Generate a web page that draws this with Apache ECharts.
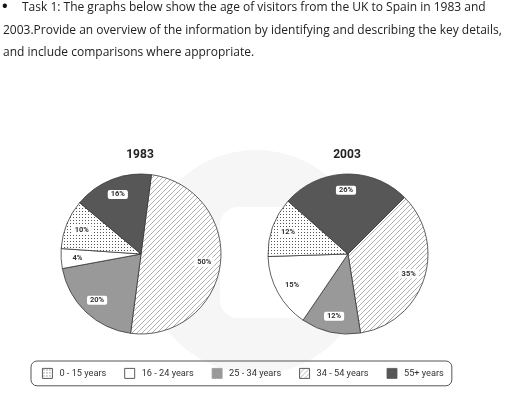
<!DOCTYPE html>
<html><head><meta charset="utf-8">
<script src="https://cdn.jsdelivr.net/npm/echarts@6/dist/echarts.min.js"></script>
<style>html,body{margin:0;padding:0;background:#fff}#c{width:512px;height:408px}</style>
</head><body><div id="c"></div>
<script>
// ---- data ----
const legendNames = ['0 - 15 years', '16 - 24 years', '25 - 34 years', '34 - 54 years', '55+ years'];
// clockwise order as drawn, starting at the 34 - 54 slice
const sliceOrder = ['34 - 54 years', '25 - 34 years', '16 - 24 years', '0 - 15 years', '55+ years'];
const values1983 = [50, 20, 4, 10, 16];
const values2003 = [35, 12, 15, 12, 26];
const years = ['1983', '2003'];
const bullet = '•';
const headerLines = [
  'Task 1: The graphs below show the age of visitors from the UK to Spain in 1983 and',
  '2003.Provide an overview of the information by identifying and describing the key details,',
  'and include comparisons where appropriate.'
];

// ---- patterns ----
function hatch() {
  const s = 5, c = document.createElement('canvas'); c.width = c.height = s;
  const g = c.getContext('2d'); g.fillStyle = '#fff'; g.fillRect(0, 0, s, s);
  g.strokeStyle = '#a8a8a8'; g.lineWidth = 0.9;
  g.beginPath();
  g.moveTo(0, s); g.lineTo(s, 0);
  g.moveTo(-1, 1); g.lineTo(1, -1);
  g.moveTo(s - 1, s + 1); g.lineTo(s + 1, s - 1);
  g.stroke();
  return { image: c, repeat: 'repeat' };
}
function dots() {
  const s = 3, c = document.createElement('canvas'); c.width = c.height = s;
  const g = c.getContext('2d'); g.fillStyle = '#fff'; g.fillRect(0, 0, s, s);
  g.fillStyle = '#555'; g.fillRect(1, 1, 1, 1);
  return { image: c, repeat: 'repeat' };
}
const fills = {
  '0 - 15 years': dots(),
  '16 - 24 years': '#ffffff',
  '25 - 34 years': '#999999',
  '34 - 54 years': hatch(),
  '55+ years': '#575757'
};

const centers = [[141, 254], [348, 254]];
const R = 80;
const starts = [82.5, 45];
const valueSets = [values1983, values2003];

function pieData(vals, withFill) {
  return sliceOrder.map((n, i) => ({
    name: n, value: vals[i],
    itemStyle: withFill ? { color: fills[n] } : undefined
  }));
}

const series = [];
valueSets.forEach((vals, k) => {
  series.push({
    type: 'pie', center: centers[k], radius: [0, R], startAngle: starts[k], clockwise: true,
    silent: true, animation: false, avoidLabelOverlap: false,
    label: { show: false }, labelLine: { show: false },
    itemStyle: { borderColor: '#3a3a3a', borderWidth: 0.8 },
    emphasis: { disabled: true },
    data: pieData(vals, true)
  });
});
valueSets.forEach((vals, k) => {
  series.push({
    type: 'pie', center: centers[k], radius: [R * 0.52, R], startAngle: starts[k], clockwise: true,
    silent: true, animation: false, avoidLabelOverlap: false,
    itemStyle: { color: 'rgba(0,0,0,0)', borderWidth: 0 },
    emphasis: { disabled: true },
    label: {
      show: true, position: 'inside', formatter: '{c}%',
      fontFamily: 'Roboto', fontSize: 7.5, fontWeight: 'bold', color: '#333',
      backgroundColor: '#fff', borderRadius: 2, padding: [1, 3, 0, 3]
    },
    labelLine: { show: false },
    data: pieData(vals, false)
  });
});

const headStyle = { fontFamily: 'Open Sans', fontSize: 12, fontWeight: 'normal', color: '#222' };
const titles = [{ text: bullet, left: 2, top: -1, padding: 0,
  textStyle: { fontFamily: 'Open Sans', fontSize: 15, color: '#111' } }];
headerLines.forEach((t, i) => titles.push({
  text: t, left: i === 0 ? 22 : 3, top: 2 + i * 22.5, textStyle: headStyle, padding: 0
}));
years.forEach((y, k) => titles.push({
  text: y, left: centers[k][0] - 1, top: 149, textAlign: 'center',
  textStyle: { fontFamily: 'Roboto', fontSize: 12, fontWeight: 'bold', color: '#222' },
  padding: 0
}));

const legendData = legendNames.map(n => {
  const solid = n === '25 - 34 years' || n === '55+ years';
  return { name: n, itemStyle: { borderColor: solid ? fills[n] : '#333', borderWidth: 0.8 } };
});

const chart = echarts.init(document.getElementById('c'), null, { renderer: 'canvas' });
chart.setOption({
  animation: false,
  title: titles,
  graphic: [
    { type: 'circle', z: 0, shape: { cx: 256, cy: 262, r: 112 }, style: { fill: '#f6f6f6' } },
    { type: 'rect', z: 0, shape: { x: 220, y: 207, width: 90, height: 111, r: 18 }, style: { fill: '#ffffff' } }
  ],
  legend: {
    data: legendData, left: 31, top: 361, orient: 'horizontal',
    icon: 'rect', itemWidth: 10, itemHeight: 10, itemGap: 18,
    padding: [7, 8, 7, 11], borderColor: '#555', borderWidth: 1, borderRadius: 6,
    textStyle: { fontFamily: 'Roboto', fontSize: 9.2, color: '#333', padding: [0, 0, 0, 2] },
    selectedMode: false
  },
  series: series
});
</script></body></html>
